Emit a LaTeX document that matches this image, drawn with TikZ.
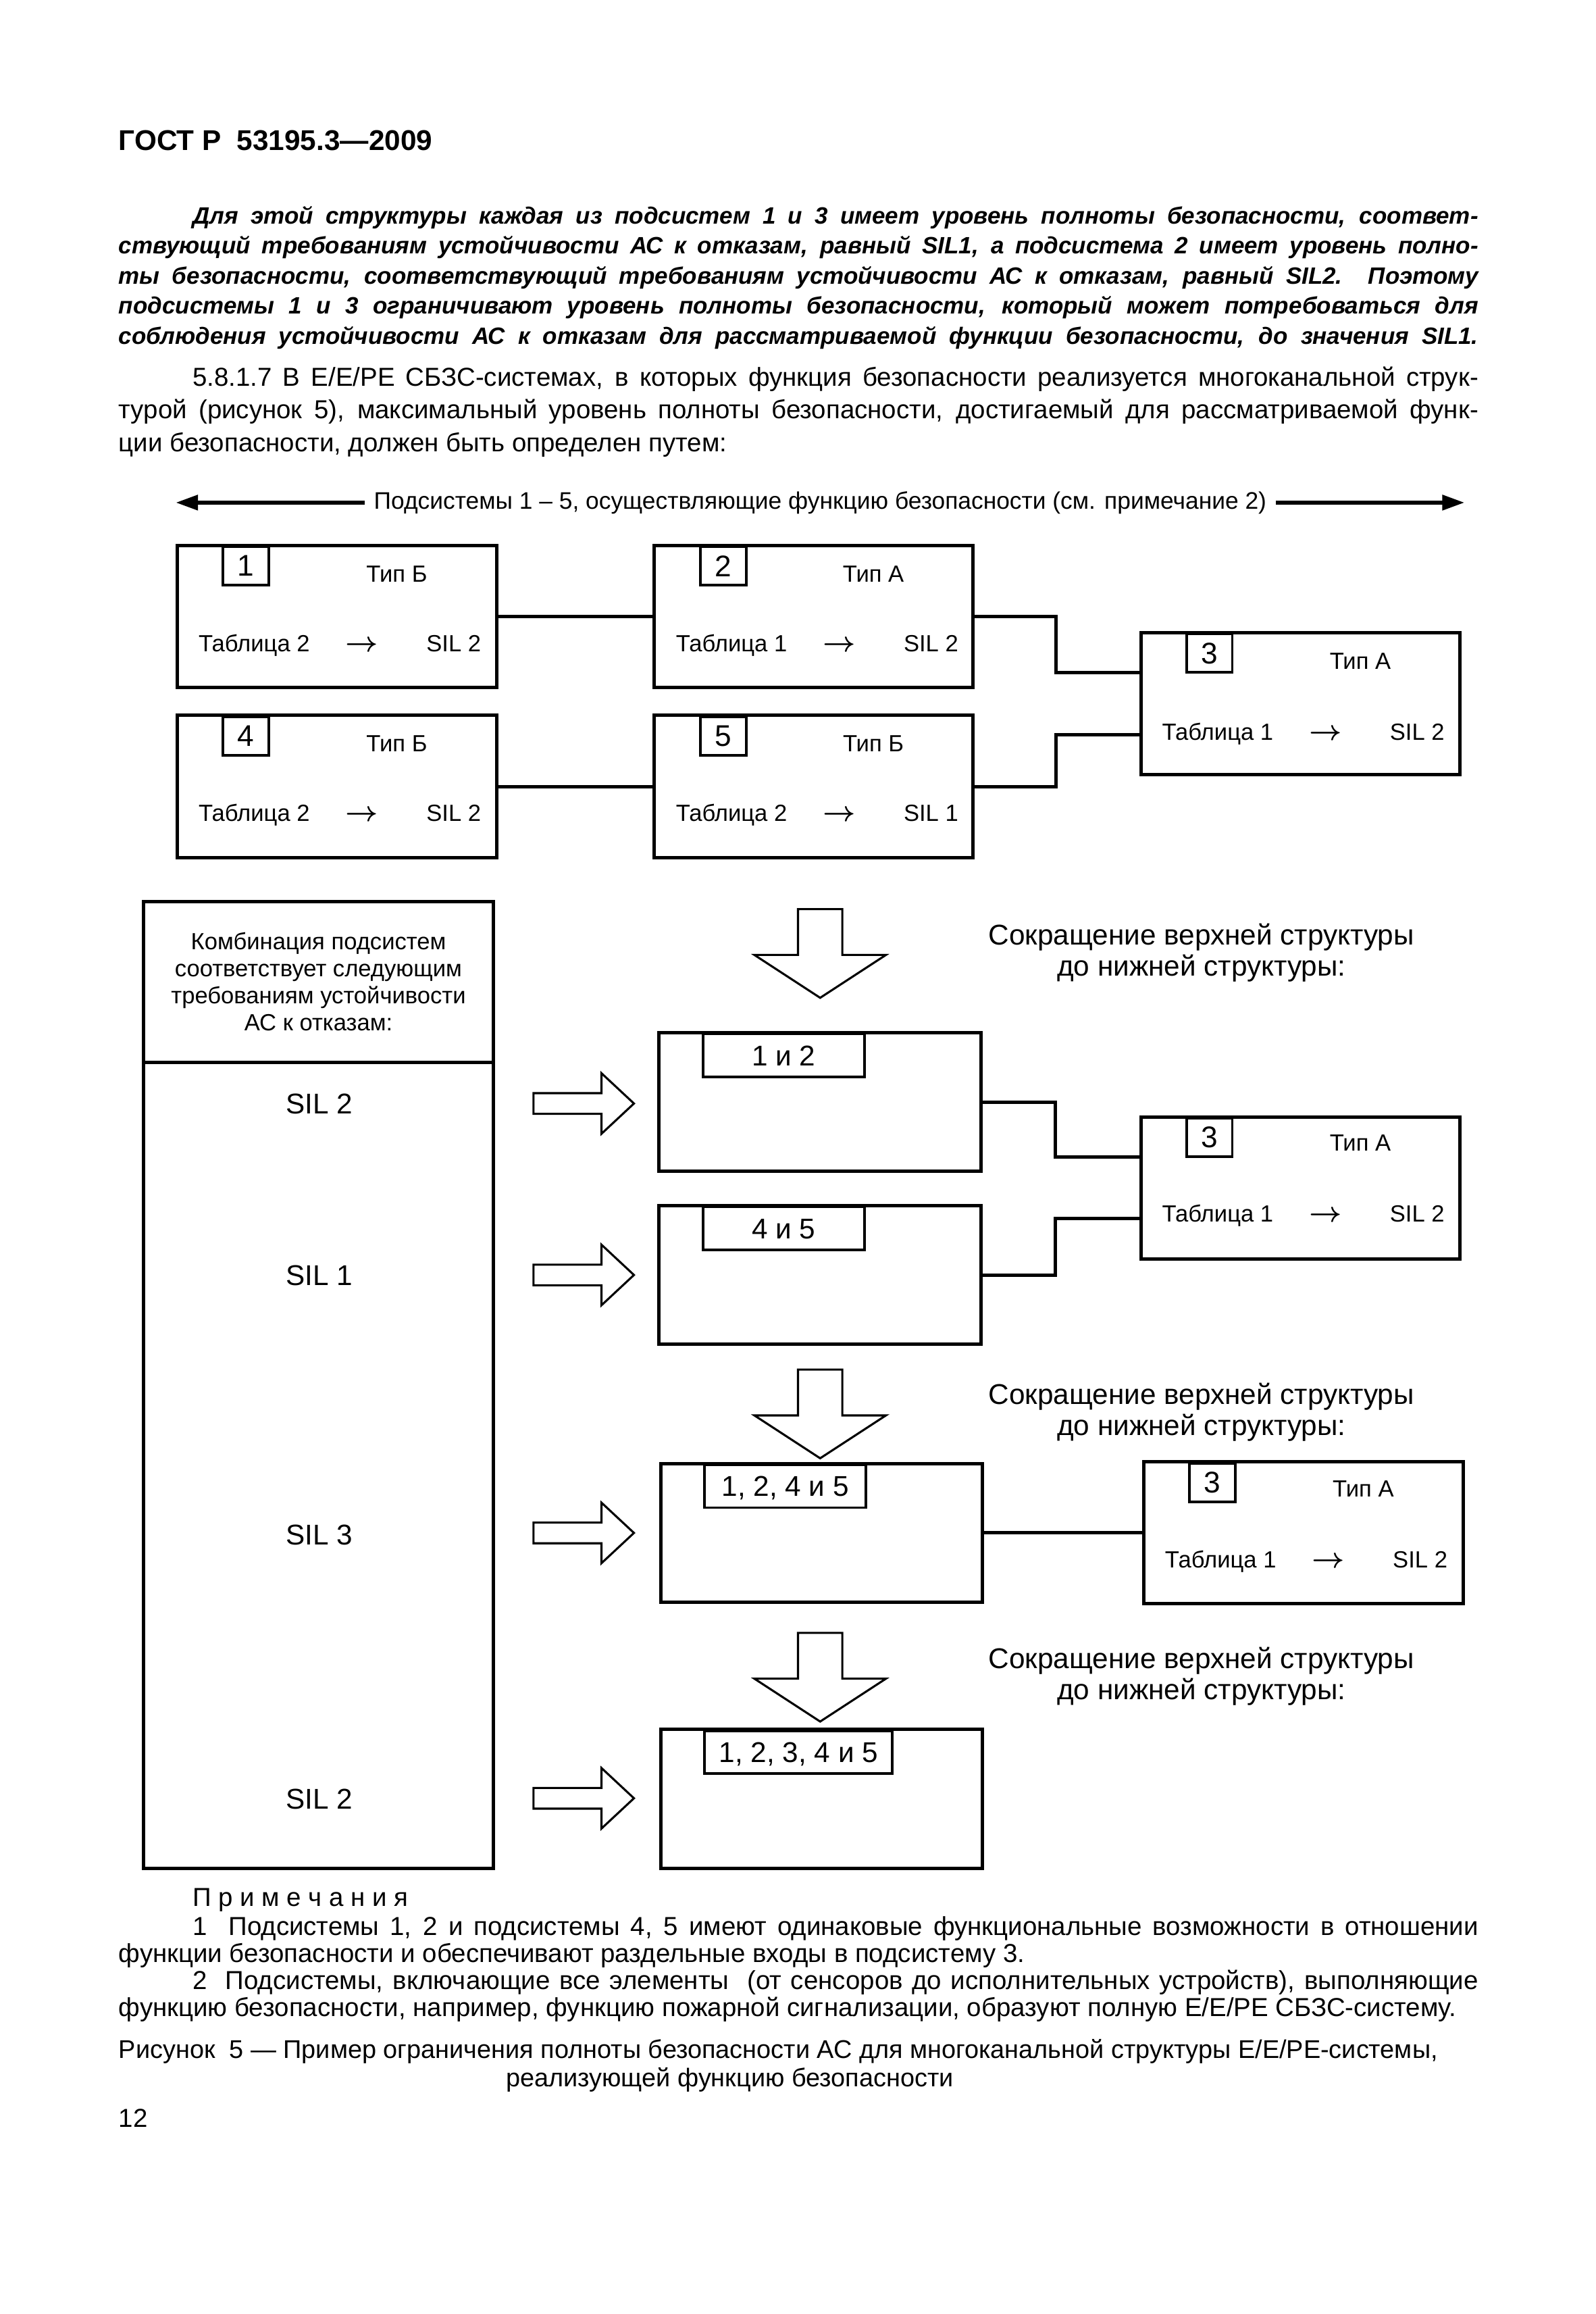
\documentclass[tikz,border=0pt]{standalone}
\usepackage{fontspec}
\setmainfont{Liberation Sans}
\usetikzlibrary{arrows.meta}

\tikzset{
	sub/.style={draw, line width=1.3pt, minimum width=43.2mm, minimum height=19.2mm, inner sep=0pt},
	num/.style={draw, line width=1pt, minimum width=6.2mm, minimum height=5.2mm, inner sep=0pt, anchor=north west, font=\fontsize{11.5}{13}\selectfont},
	txt/.style={inner sep=0pt, font=\fontsize{9}{11}\selectfont, text height=6.4pt, text depth=0pt},
	arr/.style={txt, font=\fontsize{11}{13}\selectfont\boldmath},
	big/.style={inner sep=0pt, font=\fontsize{11}{13}\selectfont, text height=7.9pt, text depth=0pt},
	merged/.style={draw, line width=1.3pt, minimum width=43.6mm, minimum height=18.8mm, inner sep=0pt},
	tag/.style={draw, line width=1pt, minimum width=21.8mm, minimum height=5.8mm, inner sep=0pt, anchor=north west, font=\fontsize{11}{13}\selectfont, text height=7.9pt, text depth=0pt},
	wire/.style={line width=1.3pt},
	hollow/.style={line width=0.8pt, line join=miter},
	red/.style={align=center, inner sep=0pt, font=\fontsize{11}{12}\selectfont},
}

\begin{document}
\begin{tikzpicture}[x=0.2mm, y=-0.2mm]
	\fill[white] (0,0) rectangle (1080,1565.4);
	\useasboundingbox (0,0) rectangle (1080,1565.4);

	% page text
	\node[anchor=west, inner sep=0pt, font=\bfseries\fontsize{11}{13}\selectfont] (gost) at (80,95) {ГОСТ Р~~53195.3—2009};
	\node[anchor=north west, inner sep=0pt, text width=184mm, align=justify, font=\bfseries\itshape\fontsize{9.1}{11.6}\selectfont] (intro) at (80,139) {\tolerance=9999\hspace*{10mm}Для этой структуры каждая из подсистем 1 и 3 имеет уровень полноты безопасности, соответ-\linebreak ствующий требованиям устойчивости АС к отказам, равный SIL1, а подсистема 2 имеет уровень полно-\linebreak ты безопасности, соответствующий требованиям устойчивости АС к отказам, равный SIL2. Поэтому\linebreak подсистемы 1 и 3 ограничивают уровень полноты безопасности, который может потребоваться для\linebreak соблюдения устойчивости АС к отказам для рассматриваемой функции безопасности, до значения SIL1.\linebreak};
	\node[anchor=north west, inner sep=0pt, text width=184mm, align=justify, font=\fontsize{10}{12.5}\selectfont] (clause) at (80,248) {\hspace*{10mm}5.8.1.7 В Е/Е/РЕ СБЗС-системах, в которых функция безопасности реализуется многоканальной струк-\linebreak турой (рисунок 5), максимальный уровень полноты безопасности, достигаемый для рассматриваемой функ-\linebreak ции безопасности, должен быть определен путем:};

	% span arrow
	\node[inner sep=1.2mm, font=\fontsize{9.2}{11}\selectfont] (span) at (555,340) {Подсистемы 1 – 5, осуществляющие функцию безопасности (см. примечание 2)};
	\coordinate (spanl) at (119,340);
	\coordinate (spanr) at (991,340);
	\draw[line width=1.5pt, -{Triangle[length=3mm, width=2mm]}] (span.west) -- (spanl);
	\draw[line width=1.5pt, -{Triangle[length=3mm, width=2mm]}] (span.east) -- (spanr);

	% subsystems
	\node[sub] (s1) at (228,417) {};
	\node[sub] (s2) at (550.5,417) {};
	\node[sub] (s3) at (880,476) {};
	\node[sub] (s4) at (228,532) {};
	\node[sub] (s5) at (550.5,532) {};

	\node[num] (n1) at (150,369) {1};
	\node[txt] (t1) at (268.5,388) {Тип Б};
	\node[txt] (tab1) at (172,435) {Таблица 2};
	\node[arr] (ar1) at (245,435) {$\rightarrow$};
	\node[txt] (sil1) at (307,435) {SIL 2};

	\node[num] (n2) at (473,369) {2};
	\node[txt] (t2) at (591,388) {Тип А};
	\node[txt] (tab2) at (495,435) {Таблица 1};
	\node[arr] (ar2) at (568,435) {$\rightarrow$};
	\node[txt] (sil2) at (630,435) {SIL 2};

	\node[num] (n3) at (802,428) {3};
	\node[txt] (t3) at (920.5,447) {Тип А};
	\node[txt] (tab3) at (824,495) {Таблица 1};
	\node[arr] (ar3) at (897,495) {$\rightarrow$};
	\node[txt] (sil3) at (959,495) {SIL 2};

	\node[num] (n4) at (150,484) {4};
	\node[txt] (t4) at (268.5,503) {Тип Б};
	\node[txt] (tab4) at (172,550) {Таблица 2};
	\node[arr] (ar4) at (245,550) {$\rightarrow$};
	\node[txt] (sil4) at (307,550) {SIL 2};

	\node[num] (n5) at (473,484) {5};
	\node[txt] (t5) at (591,503) {Тип Б};
	\node[txt] (tab5) at (495,550) {Таблица 2};
	\node[arr] (ar5) at (568,550) {$\rightarrow$};
	\node[txt] (sil5) at (630,550) {SIL 1};

	\draw[wire] (s1.east) -- (s2.west);
	\draw[wire] (s4.east) -- (s5.west);
	\draw[wire] (s2.east) -- ++(55,0) |- ([yshift=4.2mm]s3.west);
	\draw[wire] (s5.east) -- ++(55,0) |- ([yshift=-4.2mm]s3.west);

	% combination column
	\node[draw, line width=1.3pt, minimum width=47.4mm, minimum height=21.7mm, inner sep=0pt, align=center, font=\fontsize{9}{10.4}\selectfont] (combo) at (215.5,664.25) {Комбинация подсистем\\соответствует следующим\\требованиям устойчивости\\АС к отказам:};
	\node[draw, line width=1.3pt, minimum width=47.4mm, minimum height=109.1mm] (sils) at (215.5,991.25) {};
	\node[big] (c1) at (216,746.5) {SIL 2};
	\node[big] (c2) at (216,862.5) {SIL 1};
	\node[big] (c3) at (216,1038) {SIL 3};
	\node[big] (c4) at (216,1217) {SIL 2};

	% block arrows
	\foreach \y in {746.5,862.5,1037,1216.5}
		\draw[hollow] (361,\y-7) -- (407,\y-7) -- (407,\y-20.5) -- (429,\y) -- (407,\y+20.5) -- (407,\y+7) -- (361,\y+7) -- cycle;
	\foreach \t in {615,926.5,1104.6}
		\draw[hollow] (540,\t) -- (570,\t) -- (570,\t+31) -- (599.5,\t+31) -- (555,\t+60) -- (510.5,\t+31) -- (540,\t+31) -- cycle;

	\node[red] (red1) at (813,644.5) {Сокращение верхней структуры\\до нижней структуры:};
	\node[red] (red2) at (813,955.5) {Сокращение верхней структуры\\до нижней структуры:};
	\node[red] (red3) at (813,1134) {Сокращение верхней структуры\\до нижней структуры:};

	% reduced structures
	\node[merged] (m12) at (555,745.5) {};
	\node[tag] (g12) at (475,698.5) {1 и 2};
	\node[merged] (m45) at (555,862.5) {};
	\node[tag] (g45) at (475,815.5) {4 и 5};
	\node[merged] (m1245) at (556,1037) {};
	\node[tag] (g1245) at (476,990) {1, 2, 4 и 5};
	\node[merged] (mall) at (556,1217) {};
	\node[tag, minimum width=25.4mm] (gall) at (476,1170) {1, 2, 3, 4 и 5};

	\node[sub] (s3b) at (880,803.5) {};
	\node[num] (n3b) at (802,755.5) {3};
	\node[txt] (t3b) at (920.5,773) {Тип А};
	\node[txt] (tab3b) at (824,821) {Таблица 1};
	\node[arr] (ar3b) at (897,821) {$\rightarrow$};
	\node[txt] (sil3b) at (959,821) {SIL 2};

	\node[sub] (s3c) at (882,1037) {};
	\node[num] (n3c) at (804,989) {3};
	\node[txt] (t3c) at (922.5,1007) {Тип А};
	\node[txt] (tab3c) at (826,1055) {Таблица 1};
	\node[arr] (ar3c) at (899,1055) {$\rightarrow$};
	\node[txt] (sil3c) at (961,1055) {SIL 2};

	\draw[wire] (m12.east) -- ++(49,0) |- ([yshift=4.2mm]s3b.west);
	\draw[wire] (m45.east) -- ++(49,0) |- ([yshift=-4.2mm]s3b.west);
	\draw[wire] (m1245.east) -- (s3c.west);

	% notes
	\node[anchor=north west, inner sep=0pt, font=\fontsize{10}{10.4}\selectfont] (nhead) at (130,1277) {П р и м е ч а н и я};
	\node[anchor=north west, inner sep=0pt, text width=184mm, align=justify, font=\fontsize{10}{10.4}\selectfont] (notes) at (80,1296) {\hspace*{10mm}1~~Подсистемы 1, 2 и подсистемы 4, 5 имеют одинаковые функциональные возможности в отношении\linebreak функции безопасности и обеспечивают раздельные входы в подсистему 3.\par\hspace*{10mm}2~~Подсистемы, включающие все элементы~~(от сенсоров до исполнительных устройств), выполняющие\linebreak функцию безопасности, например, функцию пожарной сигнализации, образуют полную Е/Е/РЕ СБЗС-систему.};
	\node[anchor=north west, inner sep=0pt, align=left, font=\fontsize{9.85}{11}\selectfont] (caption) at (80,1379) {Рисунок~~5 — Пример ограничения полноты безопасности АС для многоканальной структуры Е/Е/РЕ-системы,\\\hspace*{52.4mm}реализующей функцию безопасности};
	\node[anchor=west, inner sep=0pt, font=\fontsize{10}{11}\selectfont] (page) at (80,1433) {12};
\end{tikzpicture}
\end{document}
